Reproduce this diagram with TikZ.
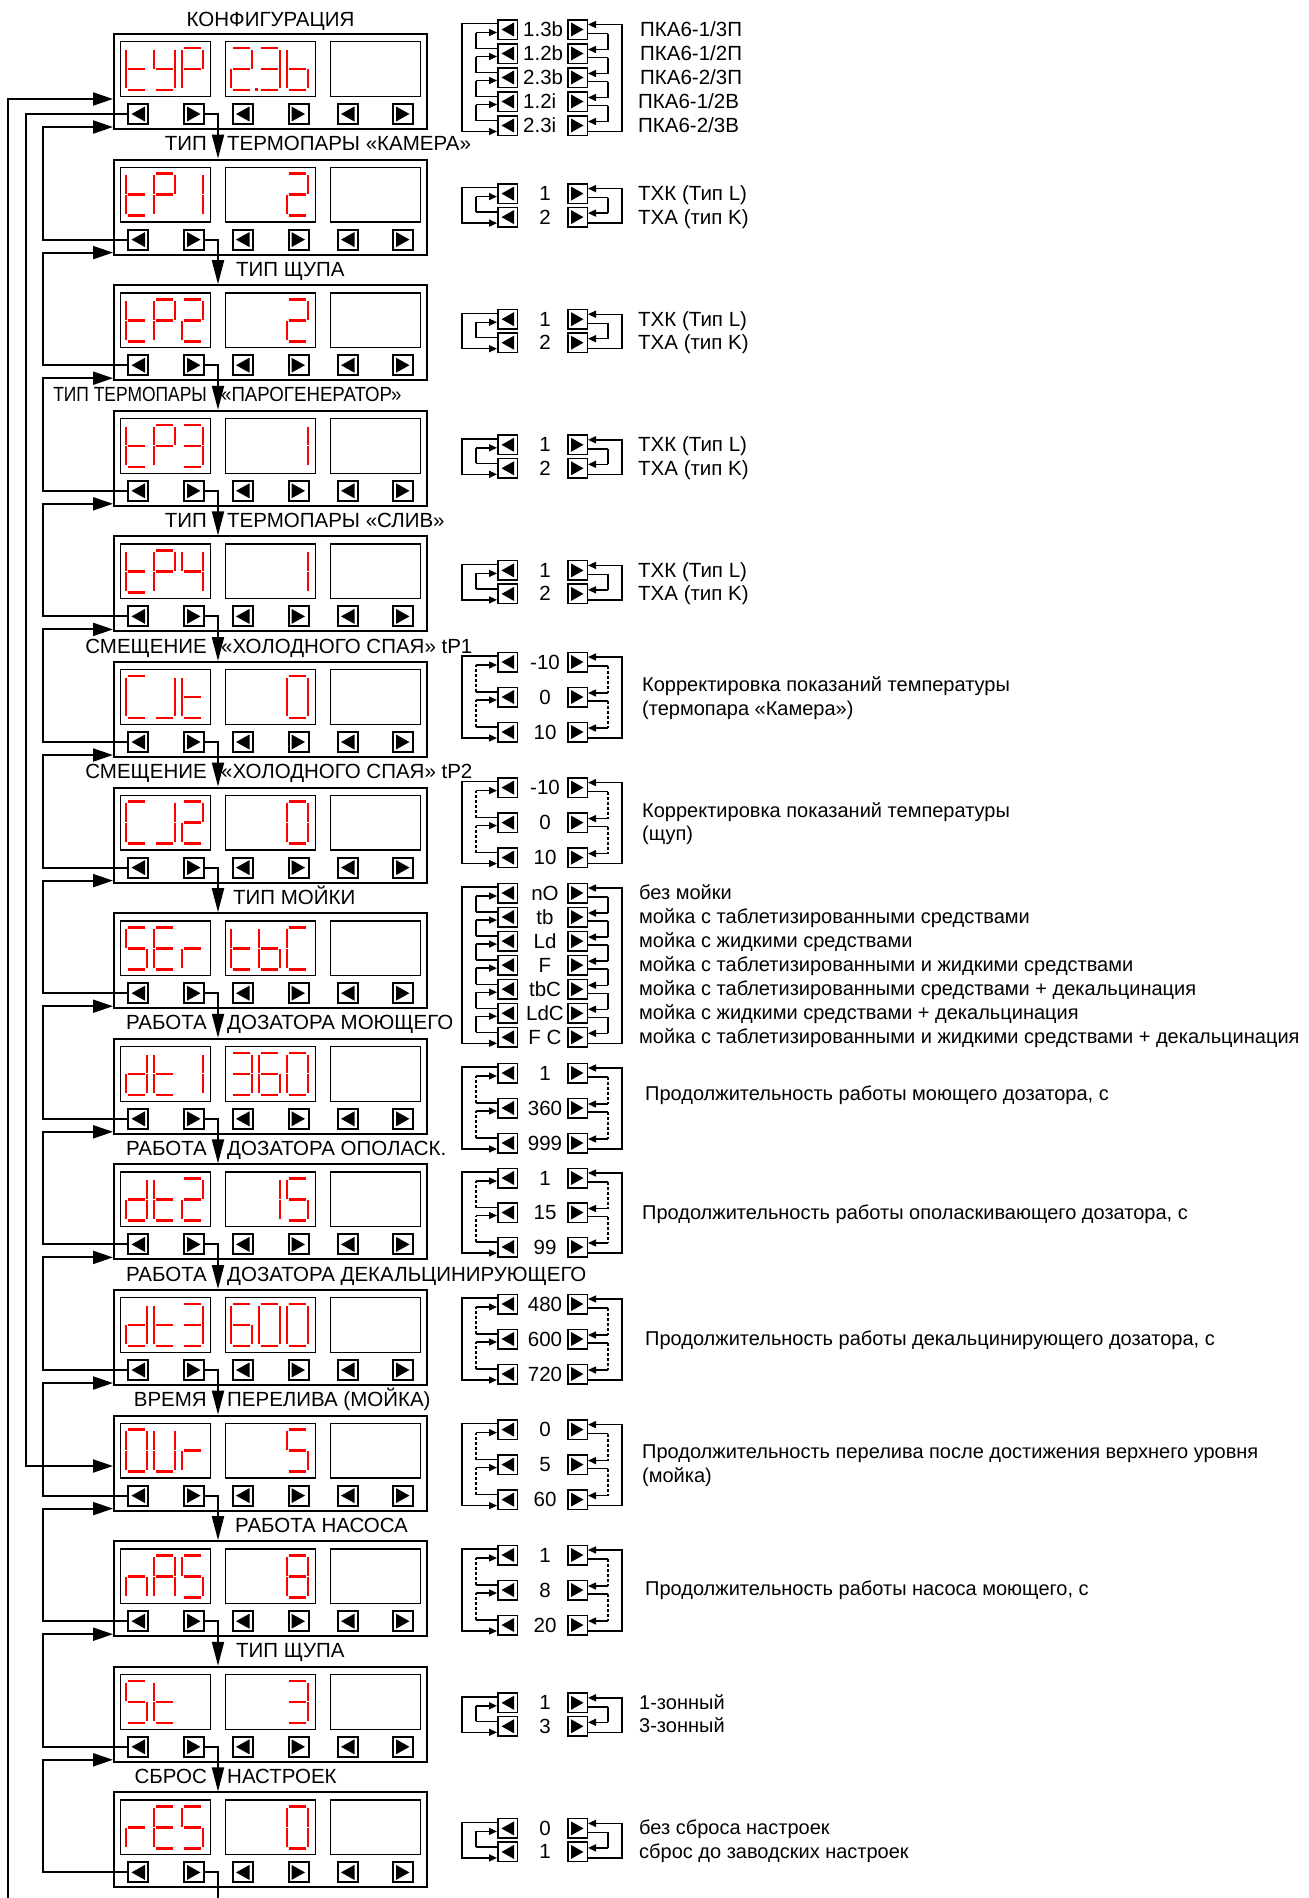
\documentclass[tikz,border=0pt]{standalone}
\usepackage{fontspec}
\setmainfont{Liberation Sans}
\usetikzlibrary{arrows.meta}
\newcommand\fs{\fontsize{20.5}{23}\selectfont}
\newcommand\fsd{\fontsize{20}{23}\selectfont}
\newcommand\sgX{0}
\newcommand\sgY{0}
\newcommand\SegA{\draw[seg] (\sgX+1.7,\sgY) -- (\sgX+19.3,\sgY);}
\newcommand\SegB{\draw[seg] (\sgX+21,\sgY+1.7) -- (\sgX+21,\sgY+20.6);}
\newcommand\SegC{\draw[seg] (\sgX+21,\sgY+21.4) -- (\sgX+21,\sgY+40.3);}
\newcommand\SegD{\draw[seg] (\sgX+1.7,\sgY+42) -- (\sgX+19.3,\sgY+42);}
\newcommand\SegE{\draw[seg] (\sgX,\sgY+21.4) -- (\sgX,\sgY+40.3);}
\newcommand\SegF{\draw[seg] (\sgX,\sgY+1.7) -- (\sgX,\sgY+20.6);}
\newcommand\SegG{\draw[seg] (\sgX+1.7,\sgY+21) -- (\sgX+19.3,\sgY+21);}
\newcommand\SegP{\fill[red] (\sgX+23.5,\sgY+40) rectangle (\sgX+26.5,\sgY+43.2);}
\newcommand\segdef[2]{\expandafter\def\csname sgc#1\endcsname{#2}}
\segdef{x}{}
\segdef{0}{\SegA\SegB\SegC\SegD\SegE\SegF}
\segdef{1}{\SegB\SegC}
\segdef{2}{\SegA\SegB\SegG\SegE\SegD}
\segdef{2p}{\SegA\SegB\SegG\SegE\SegD\SegP}
\segdef{3}{\SegA\SegB\SegG\SegC\SegD}
\segdef{4}{\SegF\SegG\SegB\SegC}
\segdef{5}{\SegA\SegF\SegG\SegC\SegD}
\segdef{6}{\SegA\SegF\SegG\SegE\SegD\SegC}
\segdef{8}{\SegA\SegB\SegC\SegD\SegE\SegF\SegG}
\segdef{A}{\SegA\SegB\SegC\SegE\SegF\SegG}
\segdef{b}{\SegF\SegE\SegD\SegC\SegG}
\segdef{C}{\SegA\SegF\SegE\SegD}
\segdef{d}{\SegB\SegC\SegD\SegE\SegG}
\segdef{E}{\SegA\SegF\SegG\SegE\SegD}
\segdef{J}{\SegB\SegC\SegD}
\segdef{n}{\SegC\SegE\SegG}
\segdef{O}{\SegA\SegB\SegC\SegD\SegE\SegF}
\segdef{P}{\SegA\SegB\SegE\SegF\SegG}
\segdef{r}{\SegE\SegG}
\segdef{S}{\SegA\SegF\SegG\SegC\SegD}
\segdef{t}{\SegF\SegE\SegD\SegG}
\segdef{U}{\SegB\SegC\SegD\SegE\SegF}
\segdef{Y}{\SegF\SegB\SegG\SegC\SegD}
\newcommand\dig[3]{\def\sgX{#1}\def\sgY{#2}\csname sgc#3\endcsname}
% option list: #1 id, #2 first row y, #3 pitch, #4 vertical style, #5 n, #6 values, #7 value style, #8 value x
\newcommand\optlist[8]{%
 \foreach \v [count=\k] in {#6}{%
   \pgfmathsetmacro\cy{#2+(\k-1)*#3}%
   \node[lbl] (#1L\k) at (507.5,\cy) {};
   \node[lbr] (#1R\k) at (577.5,\cy) {};
   \node[txt,#7] (#1V\k) at (#8,\cy+7) {\v};
 }%
 \foreach \k in {2,...,#5}{%
   \pgfmathtruncatemacro\km{\k-1}%
   \draw[lline] ([yshift=5pt]#1L\k.west) -- ([xshift=-21pt,yshift=5pt]#1L\k.west);
   \draw[lline,#4] ([xshift=-21pt,yshift=5pt]#1L\k.west) -- ([xshift=-21pt,yshift=-3pt]#1L\km.west);
   \draw[lline,larr] ([xshift=-21pt,yshift=-3pt]#1L\km.west) -- ([yshift=-3pt]#1L\km.west);
   \draw[lline] ([yshift=-4pt]#1R\km.east) -- ([xshift=20pt,yshift=-4pt]#1R\km.east);
   \draw[lline,#4] ([xshift=20pt,yshift=-4pt]#1R\km.east) -- ([xshift=20pt,yshift=4pt]#1R\k.east);
   \draw[lline,larr] ([xshift=20pt,yshift=4pt]#1R\k.east) -- ([yshift=4pt]#1R\k.east);
 }%
 \draw[lline,larr] ([yshift=6pt]#1L1.west) -- ([xshift=-35pt,yshift=6pt]#1L1.west) |- ([yshift=-6pt]#1L#5.west);
 \draw[lline,larr] ([yshift=-6pt]#1R#5.east) -- ([xshift=34pt,yshift=-6pt]#1R#5.east) |- ([yshift=5pt]#1R1.east);
}
\newcommand\desc[4]{\node[txt,font=\fsd,anchor=base west] (#1) at (#2,#3+6.5) {#4};}
\newcommand\descb[4]{\node[txt,anchor=base west] (#1) at (#2,#3+7) {#4};}
\begin{document}
\begin{tikzpicture}[x=1pt,y=-1pt,
 txt/.style={font=\fs,inner sep=0pt},
 seg/.style={draw=red,line width=2.6pt},
 panel/.style={draw,line width=2pt,minimum width=313pt,minimum height=95pt,inner sep=0pt},
 disp/.style={draw,line width=1.3pt,minimum width=89.7pt,minimum height=54.7pt,inner sep=0pt},
 pbtn/.style={draw,line width=2pt,minimum size=20pt,inner sep=0pt},
 btnl/.style={pbtn,path picture={\fill ([xshift=-6.5pt]path picture bounding box.center) -- ++(13.5pt,7.5pt) -- ++(0pt,-15pt) -- cycle;}},
 btnr/.style={pbtn,path picture={\fill ([xshift=6.5pt]path picture bounding box.center) -- ++(-13.5pt,7.5pt) -- ++(0pt,-15pt) -- cycle;}},
 lbtn/.style={draw,line width=1.5pt,minimum size=19.5pt,inner sep=0pt},
 lbl/.style={lbtn,path picture={\fill ([xshift=-6pt]path picture bounding box.center) -- ++(12.5pt,7pt) -- ++(0pt,-14pt) -- cycle;}},
 lbr/.style={lbtn,path picture={\fill ([xshift=6pt]path picture bounding box.center) -- ++(-12.5pt,7pt) -- ++(0pt,-14pt) -- cycle;}},
 conn/.style={line width=2pt},
 arrD/.style={-{Triangle[length=24pt,width=12pt]}},
 arrR/.style={-{Triangle[length=20pt,width=13pt]}},
 lline/.style={line width=1.4pt},
 larr/.style={-{Triangle[length=8pt,width=7pt]}},
 vdash/.style={line width=1.1pt,dash pattern=on 3pt off 2pt}
]
\path[use as bounding box,fill=white] (0,0) rectangle (1309,1898);

% panels
\foreach \i/\T/\ca/\cb/\cc/\cd/\ce/\cf in {
 0/33/t/Y/P/2p/3/b, 1/158.6/t/P/1/x/x/2, 2/284.2/t/P/2/x/x/2, 3/409.8/t/P/3/x/x/1,
 4/535.4/t/P/4/x/x/1, 5/661/C/J/t/x/x/0, 6/786.6/C/J/2/x/x/0, 7/912.2/S/E/r/t/b/C,
 8/1037.8/d/t/1/3/6/0, 9/1163.4/d/t/2/x/1/5, 10/1289/d/t/3/6/0/0, 11/1414.6/O/U/r/x/x/5,
 12/1540.2/n/A/S/x/x/8, 13/1665.8/S/t/x/x/x/3, 14/1791.4/r/E/S/x/x/0}{
 \node[panel] (p\i) at (270.5,\T+48.5) {};
 \node[disp] (p\i-d1) at (165.5,\T+36) {};
 \node[disp] (p\i-d2) at (270.5,\T+36) {};
 \node[disp] (p\i-d3) at (375.5,\T+36) {};
 \node[btnl] (p\i-L) at (138,\T+81) {};
 \node[btnr] (p\i-R) at (194,\T+81) {};
 \node[btnl] (p\i-b3) at (242.5,\T+81) {};
 \node[btnr] (p\i-b4) at (298.5,\T+81) {};
 \node[btnl] (p\i-b5) at (347.5,\T+81) {};
 \node[btnr] (p\i-b6) at (403,\T+81) {};
 \dig{126}{\T+15}{\ca}\dig{154}{\T+15}{\cb}\dig{182}{\T+15}{\cc}
 \dig{231}{\T+15}{\cd}\dig{259}{\T+15}{\ce}\dig{287}{\T+15}{\cf}
}

% main connectors
\coordinate (rx) at (218,0);
\foreach \i in {0,...,13}{
 \pgfmathtruncatemacro\j{\i+1}
 \draw[conn,arrD] (p\i-R.east) -| (p\j.north -| rx);
}
\coordinate (rbot) at (218,1898);
\draw[conn] (p14-R.east) -| (rbot);
\foreach \j in {1,...,14}{
 \pgfmathtruncatemacro\i{\j-1}
 \coordinate (lc\j) at (43,127+125.6*\i);
 \draw[conn,arrR] (p\j-L.west) -| (lc\j) -- (p\i.west |- lc\j);
}
\coordinate (c26) at (26,1466);
\draw[conn,arrR] (p0-L.west) -| (c26) -- (p11.west |- c26);
\coordinate (c8) at (8,1898);
\coordinate (c8t) at (8,99);
\draw[conn,arrR] (c8) -- (c8t) -- (p0.west |- c8t);

% labels
\node[txt,anchor=base] (lab0) at (270.5,26) {КОНФИГУРАЦИЯ};
\node[txt,anchor=base east] (lab1a) at (207,150.6) {ТИП};
\node[txt,anchor=base west] (lab1b) at (227,150.6) {ТЕРМОПАРЫ «КАМЕРА»};
\node[txt,anchor=base west] (lab2b) at (236,276.2) {ТИП ЩУПА};
\node[txt,anchor=base east] (lab3a) at (207,401.8) {\scalebox{0.85}[1]{ТИП ТЕРМОПАРЫ}};
\node[txt,anchor=base west] (lab3b) at (221,401.8) {\scalebox{0.91}[1]{«ПАРОГЕНЕРАТОР»}};
\node[txt,anchor=base east] (lab4a) at (207,527.4) {ТИП};
\node[txt,anchor=base west] (lab4b) at (227,527.4) {ТЕРМОПАРЫ «СЛИВ»};
\node[txt,anchor=base east] (lab5a) at (207,653) {СМЕЩЕНИЕ};
\node[txt,anchor=base west] (lab5b) at (221,653) {«ХОЛОДНОГО СПАЯ» tP1};
\node[txt,anchor=base east] (lab6a) at (207,778.6) {СМЕЩЕНИЕ};
\node[txt,anchor=base west] (lab6b) at (221,778.6) {«ХОЛОДНОГО СПАЯ» tP2};
\node[txt,anchor=base west] (lab7b) at (233,904.2) {ТИП МОЙКИ};
\node[txt,anchor=base east] (lab8a) at (207,1029.8) {РАБОТА};
\node[txt,anchor=base west] (lab8b) at (227,1029.8) {ДОЗАТОРА МОЮЩЕГО};
\node[txt,anchor=base east] (lab9a) at (207,1155.4) {РАБОТА};
\node[txt,anchor=base west] (lab9b) at (227,1155.4) {ДОЗАТОРА ОПОЛАСК.};
\node[txt,anchor=base east] (lab10a) at (207,1281) {РАБОТА};
\node[txt,anchor=base west] (lab10b) at (227,1281) {ДОЗАТОРА ДЕКАЛЬЦИНИРУЮЩЕГО};
\node[txt,anchor=base east] (lab11a) at (207,1406.6) {ВРЕМЯ};
\node[txt,anchor=base west] (lab11b) at (227,1406.6) {ПЕРЕЛИВА (МОЙКА)};
\node[txt,anchor=base west] (lab12b) at (235,1532.2) {РАБОТА НАСОСА};
\node[txt,anchor=base west] (lab13b) at (236,1657.8) {ТИП ЩУПА};
\node[txt,anchor=base east] (lab14a) at (207,1783.4) {СБРОС};
\node[txt,anchor=base west] (lab14b) at (227,1783.4) {НАСТРОЕК};

% option lists
\optlist{a}{29.5}{24}{solid}{5}{1.3b,1.2b,2.3b,1.2i,2.3i}{anchor=base west}{523}
\optlist{b}{193.6}{23.5}{solid}{2}{1,2}{anchor=base}{545}
\optlist{c}{319.2}{23.5}{solid}{2}{1,2}{anchor=base}{545}
\optlist{d}{444.8}{23.5}{solid}{2}{1,2}{anchor=base}{545}
\optlist{e}{570.4}{23.5}{solid}{2}{1,2}{anchor=base}{545}
\optlist{f}{662}{35}{vdash}{3}{-10,0,10}{anchor=base}{545}
\optlist{g}{787.6}{35}{vdash}{3}{-10,0,10}{anchor=base}{545}
\optlist{h}{893}{24.05}{solid}{7}{nO,tb,Ld,F,tbC,LdC,F C}{anchor=base}{545}
\optlist{i}{1073}{35}{vdash}{3}{1,360,999}{anchor=base}{545}
\optlist{j}{1178}{34.5}{vdash}{3}{1,15,99}{anchor=base}{545}
\optlist{k}{1304}{35}{vdash}{3}{480,600,720}{anchor=base}{545}
\optlist{l}{1429.6}{35}{vdash}{3}{0,5,60}{anchor=base}{545}
\optlist{m}{1555}{35}{vdash}{3}{1,8,20}{anchor=base}{545}
\optlist{n}{1702.8}{23.5}{solid}{2}{1,3}{anchor=base}{545}
\optlist{o}{1828.4}{23.5}{solid}{2}{0,1}{anchor=base}{545}

% descriptions
\descb{da1}{640}{29.5}{ПКА6-1/3П}
\descb{da2}{640}{53.5}{ПКА6-1/2П}
\descb{da3}{640}{77.5}{ПКА6-2/3П}
\descb{da4}{638}{101.5}{ПКА6-1/2В}
\descb{da5}{638}{125.5}{ПКА6-2/3В}
\descb{db1}{638}{193.6}{ТХК (Тип L)}
\descb{db2}{638}{217.1}{ТХА (тип K)}
\descb{dc1}{638}{319.2}{ТХК (Тип L)}
\descb{dc2}{638}{342.7}{ТХА (тип K)}
\descb{dd1}{638}{444.8}{ТХК (Тип L)}
\descb{dd2}{638}{468.3}{ТХА (тип K)}
\descb{de1}{638}{570.4}{ТХК (Тип L)}
\descb{de2}{638}{593.9}{ТХА (тип K)}
\desc{df1}{642}{685}{Корректировка показаний температуры}
\desc{df2}{642}{708.5}{(термопара «Камера»)}
\desc{dg1}{642}{810.6}{Корректировка показаний температуры}
\desc{dg2}{642}{834.1}{(щуп)}
\desc{dh1}{639}{893}{без мойки}
\desc{dh2}{639}{917.05}{мойка с таблетизированными средствами}
\desc{dh3}{639}{941.1}{мойка с жидкими средствами}
\desc{dh4}{639}{965.15}{мойка с таблетизированными и жидкими средствами}
\desc{dh5}{639}{989.2}{мойка с таблетизированными средствами + декальцинация}
\desc{dh6}{639}{1013.25}{мойка с жидкими средствами + декальцинация}
\desc{dh7}{639}{1037.3}{мойка с таблетизированными и жидкими средствами + декальцинация}
\desc{di1}{645}{1094}{Продолжительность работы моющего дозатора, с}
\desc{dj1}{642}{1212.5}{Продолжительность работы ополаскивающего дозатора, с}
\desc{dk1}{645}{1339}{Продолжительность работы декальцинирующего дозатора, с}
\desc{dl1}{642}{1452}{Продолжительность перелива после достижения верхнего уровня}
\desc{dl2}{642}{1476}{(мойка)}
\desc{dm1}{645}{1589}{Продолжительность работы насоса моющего, с}
\desc{dn1}{639}{1702.8}{1-зонный}
\desc{dn2}{639}{1726.3}{3-зонный}
\desc{do1}{639}{1828.4}{без сброса настроек}
\desc{do2}{639}{1851.9}{сброс до заводских настроек}
\end{tikzpicture}
\end{document}
